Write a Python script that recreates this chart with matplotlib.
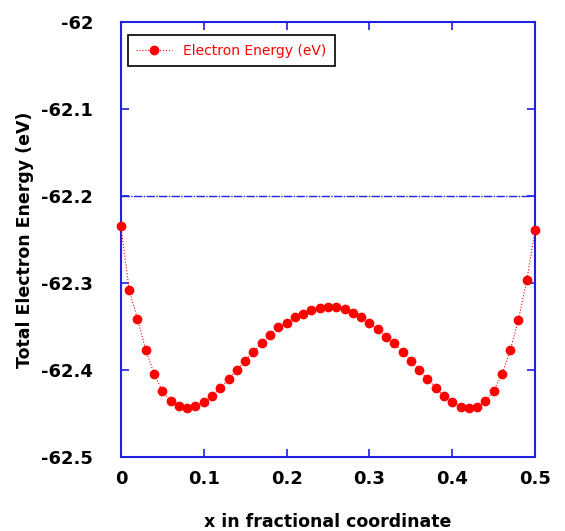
import matplotlib
matplotlib.use('Agg')
import matplotlib.pyplot as plt

# x in fractional coordinate, step 0.01
x_frac = [i / 100 for i in range(51)]
energy = [
    -62.235, -62.308, -62.341, -62.377, -62.404, -62.424, -62.436, -62.441, -62.443, -62.441,
    -62.437, -62.430, -62.421, -62.410, -62.400, -62.389, -62.379, -62.369, -62.360, -62.351,
    -62.346, -62.339, -62.335, -62.331, -62.329, -62.328, -62.328, -62.330, -62.334, -62.339,
    -62.346, -62.353, -62.362, -62.369, -62.379, -62.389, -62.400, -62.410, -62.420, -62.430,
    -62.437, -62.442, -62.444, -62.442, -62.436, -62.424, -62.405, -62.377, -62.342, -62.297,
    -62.239,
]
ref_level = -62.2
xticks = [0, 0.1, 0.2, 0.3, 0.4, 0.5]
xticklabels = ['0', '0.1', '0.2', '0.3', '0.4', '0.5']
yticks = [-62.5, -62.4, -62.3, -62.2, -62.1, -62]
yticklabels = ['-62.5', '-62.4', '-62.3', '-62.2', '-62.1', '-62']

blue = '#2020e0'

fig = plt.figure(figsize=(5.65, 5.31), dpi=100)
ax = fig.add_axes([0.214, 0.139, 0.733, 0.820])

ax.axhline(ref_level, color=blue, lw=1.0, ls=(0, (6, 1, 1, 1)))
ax.plot(x_frac, energy, color='red', lw=0.8, ls=':', marker='o', ms=6,
        markeredgecolor='red', markerfacecolor='red', label='Electron Energy (eV)',
        clip_on=False, zorder=3)

ax.set_xlim(0, 0.5)
ax.set_ylim(-62.5, -62)
ax.set_xticks(xticks)
ax.set_xticklabels(xticklabels)
ax.set_yticks(yticks)
ax.set_yticklabels(yticklabels)

for s in ax.spines.values():
    s.set_color(blue)
    s.set_linewidth(1.5)
ax.tick_params(direction='in', length=6, width=1.2, color=blue,
               top=True, right=True, labelsize=13)
ax.tick_params(axis='y', pad=20)
ax.tick_params(axis='x', pad=9)
for lab in ax.get_xticklabels() + ax.get_yticklabels():
    lab.set_fontweight('bold')

ax.set_xlabel('x in fractional coordinate', fontsize=12.5, fontweight='bold', labelpad=18)
ax.set_ylabel('Total Electron Energy (eV)', fontsize=12.5, fontweight='bold', labelpad=5)

leg = ax.legend(loc='upper left', bbox_to_anchor=(0.0, 0.985), fancybox=False,
                edgecolor='black', fontsize=10, handlelength=2.6, borderpad=0.6,
                labelcolor='red', framealpha=1)
leg.get_frame().set_linewidth(1.2)

fig.savefig('out.png', dpi=100)
